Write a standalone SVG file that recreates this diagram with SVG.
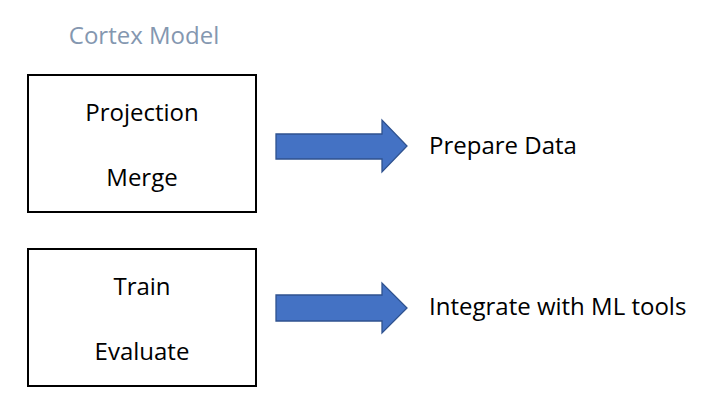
<svg xmlns="http://www.w3.org/2000/svg" width="704" height="414" viewBox="0 0 704 414">
<style>
.box{fill:#fff;stroke:#000;stroke-width:2}
.t{font-family:"Open Sans","Liberation Sans",Arial,sans-serif;font-size:24px;fill:#000}
.c{text-anchor:middle}
.arrow{fill:#4472C4;stroke:#2F528F;stroke-width:1.3}
</style>
<rect width="704" height="414" fill="#fff"/>
<text x="144" y="44" class="t c" style="fill:#8497B0">Cortex Model</text>
<g id="box1">
<rect class="box" x="28" y="75" width="228" height="137"/>
<text x="142" y="121" class="t c">Projection</text>
<text x="142" y="186" class="t c">Merge</text>
</g>
<g id="box2">
<rect class="box" x="28" y="249" width="228" height="137"/>
<text x="142" y="295" class="t c">Train</text>
<text x="142" y="360" class="t c">Evaluate</text>
</g>
<g id="prepare">
<text x="429" y="154" class="t">Prepare Data</text>
</g>
<g id="integrate">
<text x="429" y="315" class="t">Integrate with ML tools</text>
</g>
<g id="connectors">
<path class="arrow" d="M276,134 H382 V120 L407,146 L382,172 V159 H276 Z"/>
<path class="arrow" d="M276,295 H382 V283 L407,308 L382,333 V321 H276 Z"/>
</g>
</svg>
